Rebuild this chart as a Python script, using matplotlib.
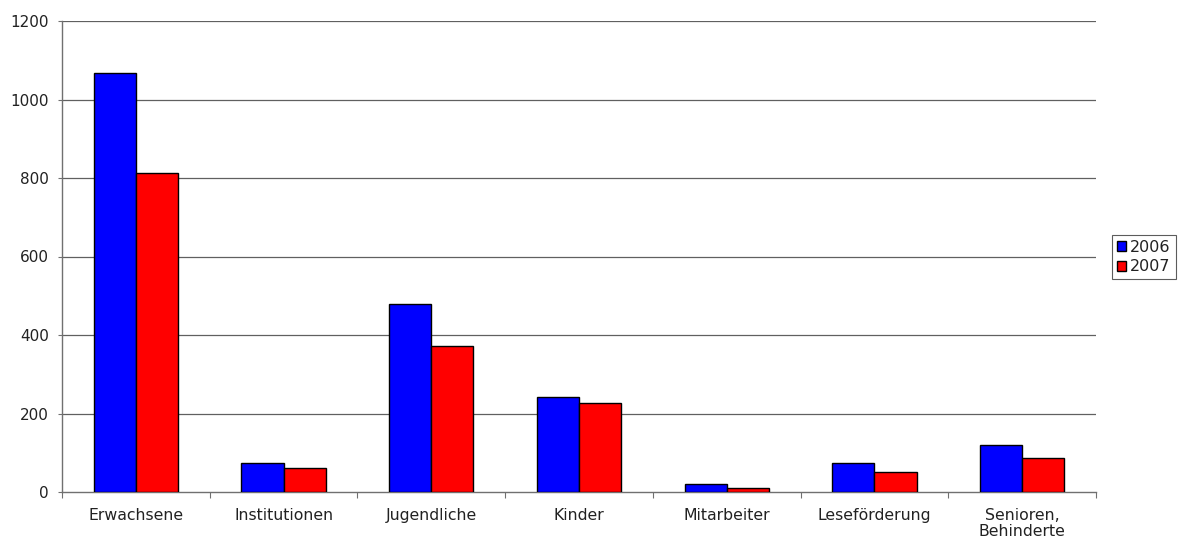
import matplotlib
matplotlib.use("Agg")
import matplotlib.pyplot as plt
import numpy as np
from matplotlib.patches import Patch

categories = ["Erwachsene", "Institutionen", "Jugendliche", "Kinder",
              "Mitarbeiter", "Leseförderung", "Senioren,\nBehinderte"]
values_2006 = [1068, 75, 479, 242, 21, 75, 120]
values_2007 = [813, 61, 372, 227, 11, 52, 86]
series_labels = ["2006", "2007"]
yticks = [0, 200, 400, 600, 800, 1000, 1200]

plt.rcParams['font.family'] = ['DejaVu Sans']
fig = plt.figure(figsize=(11.79, 5.41), dpi=100)
ax = fig.add_axes([62/1179, 49/541, (1096-62)/1179, (492-21)/541])

x = np.arange(len(categories)) + 0.5
w = 0.285
ax.bar(x - w/2, values_2006, w, color="#0000ff", edgecolor="black", linewidth=1, zorder=3)
ax.bar(x + w/2, values_2007, w, color="#ff0000", edgecolor="black", linewidth=1, zorder=3)

ax.set_xlim(0, len(categories))
ax.set_ylim(0, 1200)
ax.set_yticks(yticks)
ax.set_yticklabels([str(v) for v in yticks], fontsize=11, color="#222222")
ax.set_xticks(np.arange(len(categories) + 1))
ax.set_xticklabels([])
ax.set_xticks(x, minor=True)
ax.set_xticklabels(categories, minor=True, fontsize=11.3, color="#222222", linespacing=1.1)
ax.tick_params(axis='x', which='minor', length=0, pad=11.5)
ax.tick_params(axis='x', which='major', length=4, color="#707070", direction='out')
ax.tick_params(axis='y', length=3, color="#707070", direction='out', pad=6.5)

for v in yticks[1:]:
    ax.axhline(v, color="#606060", linewidth=0.9, zorder=1)

for s in ["top", "right"]:
    ax.spines[s].set_visible(False)
for s in ["left", "bottom"]:
    ax.spines[s].set_color("#707070")
    ax.spines[s].set_linewidth(1)

handles = [Patch(facecolor="#0000ff", edgecolor="black", label=series_labels[0]),
           Patch(facecolor="#ff0000", edgecolor="black", label=series_labels[1])]
leg = fig.legend(handles=handles, loc="center left", bbox_to_anchor=(1112/1179, 1 - 257/541),
                 fontsize=11.5, frameon=True, fancybox=False, edgecolor="#333333",
                 handlelength=0.55, handleheight=0.55, handletextpad=0.3,
                 borderpad=0.3, labelspacing=0.3, borderaxespad=0)
leg.get_frame().set_linewidth(0.8)
for t in leg.get_texts():
    t.set_color("#222222")

fig.savefig("out.png", dpi=100)
